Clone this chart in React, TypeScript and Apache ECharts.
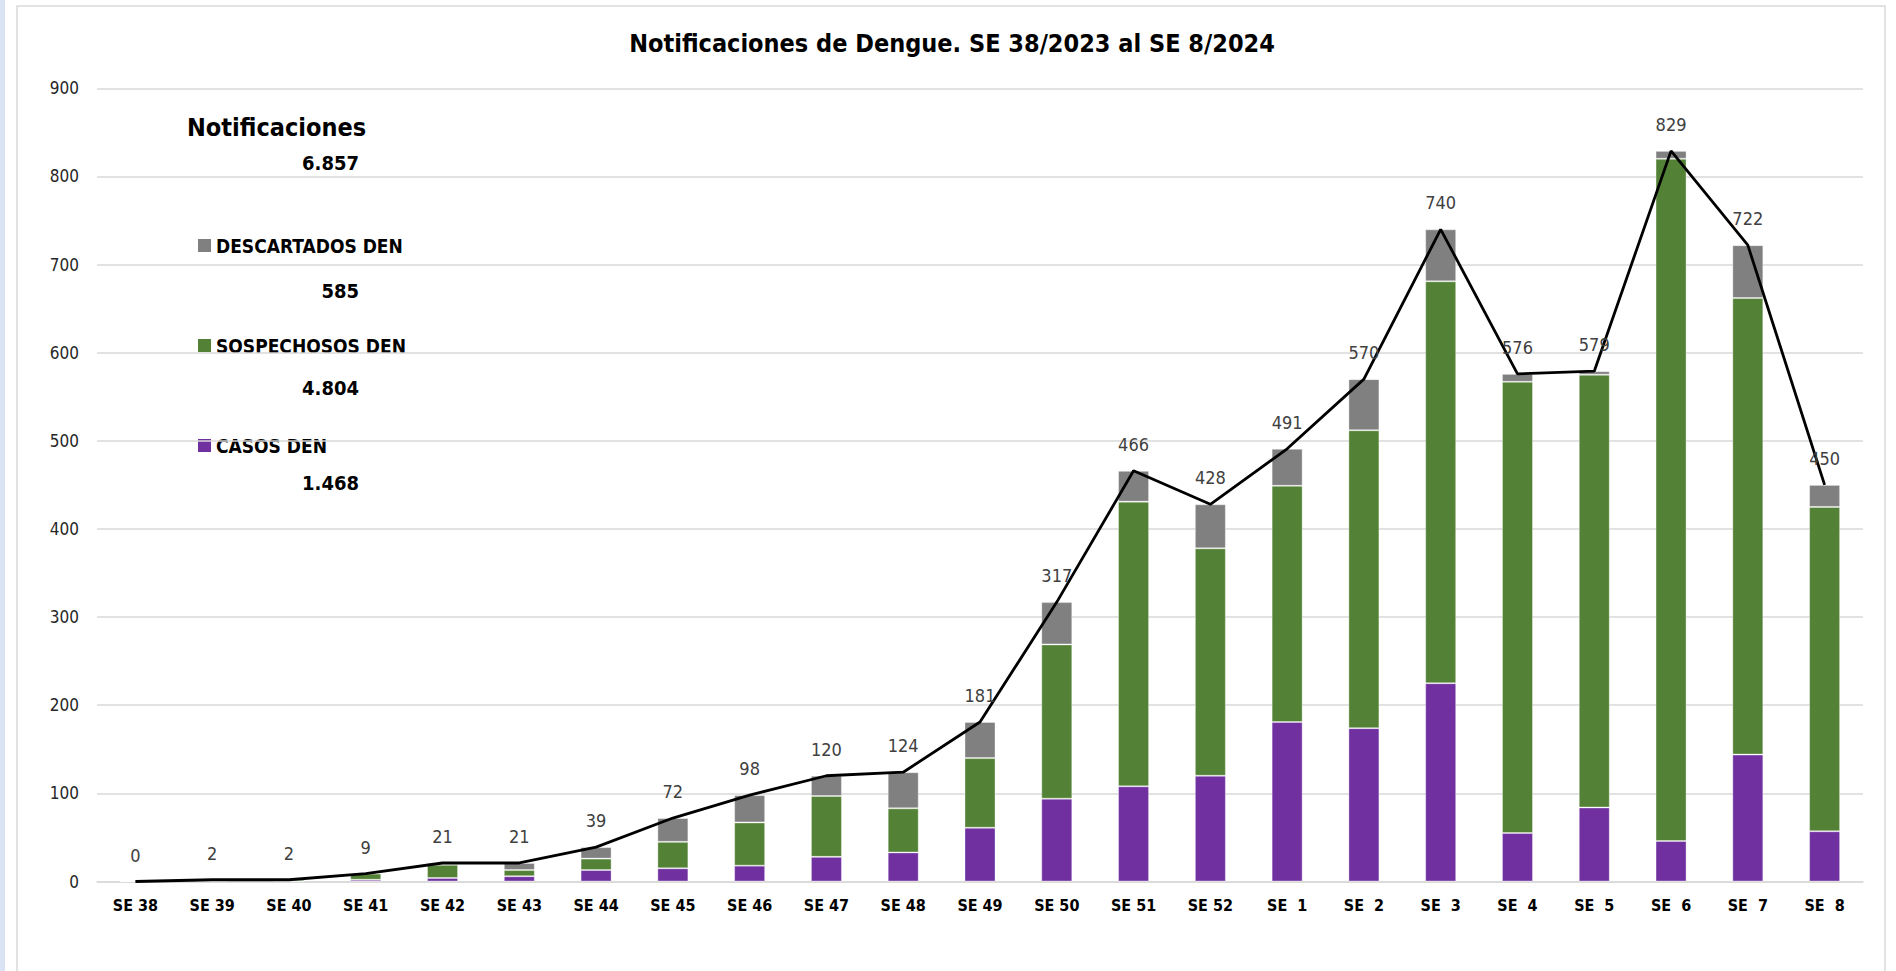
import React, { useEffect, useRef } from "react";
import * as echarts from "echarts";

const categories = ["SE 38", "SE 39", "SE 40", "SE 41", "SE 42", "SE 43", "SE 44", "SE 45", "SE 46", "SE 47", "SE 48", "SE 49", "SE 50", "SE 51", "SE 52", "SE  1", "SE  2", "SE  3", "SE  4", "SE  5", "SE  6", "SE  7", "SE  8"];
const casos = [0, 0, 0, 2, 4, 6, 13, 15, 18, 28, 33, 61, 94, 108, 120, 181, 174, 225, 55, 84, 46, 144, 57];
const sospechosos = [0, 2, 2, 7, 15, 7, 13, 30, 49, 69, 50, 79, 175, 323, 258, 268, 338, 456, 512, 491, 774, 518, 368];
const descartados = [0, 0, 0, 0, 2, 8, 13, 27, 31, 23, 41, 41, 48, 35, 50, 42, 58, 59, 9, 4, 9, 60, 25];
const notificaciones = [0, 2, 2, 9, 21, 21, 39, 72, 98, 120, 124, 181, 317, 466, 428, 491, 570, 740, 576, 579, 829, 722, 450];
const yTicks = { min: 0, max: 900, interval: 100 };

const TITLE = "Notificaciones de Dengue. SE 38/2023 al SE 8/2024";
const FONT = "'Liberation Sans Narrow', 'DejaVu Sans Condensed', 'Liberation Sans', sans-serif";
const C_CASOS = "#7030a0";
const C_SOSP = "#538135";
const C_DESC = "#808080";

const sum = (a: number[]) => a.reduce((s, v) => s + v, 0);
const fmt = (n: number) => n.toString().replace(/\B(?=(\d{3})+(?!\d))/g, ".");

export default function App() {
  const ref = useRef<HTMLDivElement>(null);
  useEffect(() => {
    document.body.style.margin = "0";
    const chart = echarts.init(ref.current!, undefined, { renderer: "svg" });
    const legendItems = [
      { name: "DESCARTADOS DEN", color: C_DESC, total: sum(descartados), y: 246, ty: 291 },
      { name: "SOSPECHOSOS DEN", color: C_SOSP, total: sum(sospechosos), y: 346, ty: 388 },
      { name: "CASOS DEN", color: C_CASOS, total: sum(casos), y: 446, ty: 483 },
    ];
    const graphics: any[] = [
      { type: "rect", z: -10, silent: true, shape: { x: 0, y: 0, width: 5, height: 971 }, style: { fill: "#dae3f3" } },
      { type: "rect", z: -10, silent: true, shape: { x: 17, y: 6, width: 1868, height: 990 }, style: { fill: "#ffffff", stroke: "#d9d9d9", lineWidth: 1.5 } },
      { type: "text", x: 952, y: 43, style: { text: TITLE, font: `bold 25px ${FONT}`, fill: "#000000", textAlign: "center", textVerticalAlign: "middle" } },
      { type: "text", x: 187, y: 127, style: { text: "Notificaciones", font: `bold 25px ${FONT}`, fill: "#000000", textAlign: "left", textVerticalAlign: "middle" } },
      { type: "text", x: 359, y: 163, style: { text: fmt(sum(notificaciones)), font: `bold 20px ${FONT}`, fill: "#000000", textAlign: "right", textVerticalAlign: "middle" } },
    ];
    legendItems.forEach((it) => {
      graphics.push({ type: "rect", shape: { x: 198, y: it.y - 7, width: 13, height: 13 }, style: { fill: it.color } });
      graphics.push({ type: "text", x: 216, y: it.y, style: { text: it.name, font: `bold 19px ${FONT}`, fill: "#000000", textAlign: "left", textVerticalAlign: "middle" } });
      graphics.push({ type: "text", x: 359, y: it.ty, style: { text: fmt(it.total), font: `bold 20px ${FONT}`, fill: "#000000", textAlign: "right", textVerticalAlign: "middle" } });
    });
    const barCommon = { type: "bar", stack: "n", barWidth: 31, itemStyle: { borderColor: "rgba(255,255,255,0.35)", borderWidth: 1 } };
    chart.setOption({
      animation: false,
      backgroundColor: "#ffffff",
      grid: { left: 97, right: 33, top: 88.3, bottom: 89.5, containLabel: false },
      xAxis: {
        type: "category",
        data: categories,
        axisTick: { show: false },
        axisLine: { lineStyle: { color: "#d9d9d9", width: 1.5 } },
        axisLabel: { color: "#000000", fontFamily: FONT, fontWeight: "bold", fontSize: 16, margin: 16 },
      },
      yAxis: {
        type: "value",
        min: yTicks.min,
        max: yTicks.max,
        interval: yTicks.interval,
        axisLine: { show: false },
        axisTick: { show: false },
        splitLine: { lineStyle: { color: "#d9d9d9", width: 1.5 } },
        axisLabel: { color: "#262626", fontFamily: FONT, fontSize: 17, margin: 18 },
      },
      graphic: graphics,
      series: [
        { ...barCommon, name: "CASOS DEN", data: casos, itemStyle: { ...barCommon.itemStyle, color: C_CASOS } },
        { ...barCommon, name: "SOSPECHOSOS DEN", data: sospechosos, itemStyle: { ...barCommon.itemStyle, color: C_SOSP } },
        { ...barCommon, name: "DESCARTADOS DEN", data: descartados, itemStyle: { ...barCommon.itemStyle, color: C_DESC } },
        {
          type: "line",
          name: "Notificaciones",
          data: notificaciones,
          symbol: "circle",
          symbolSize: 1,
          showSymbol: true,
          itemStyle: { color: "#000000", opacity: 0 },
          lineStyle: { color: "#000000", width: 2.8, opacity: 1 },
          z: 5,
          labelLayout: { hideOverlap: false },
          label: { show: true, position: "top", distance: 17, color: "#404040", fontFamily: FONT, fontSize: 18, opacity: 1 },
        },
      ],
    });
    return () => chart.dispose();
  }, []);
  return <div ref={ref} style={{ width: 1896, height: 971 }} />;
}
